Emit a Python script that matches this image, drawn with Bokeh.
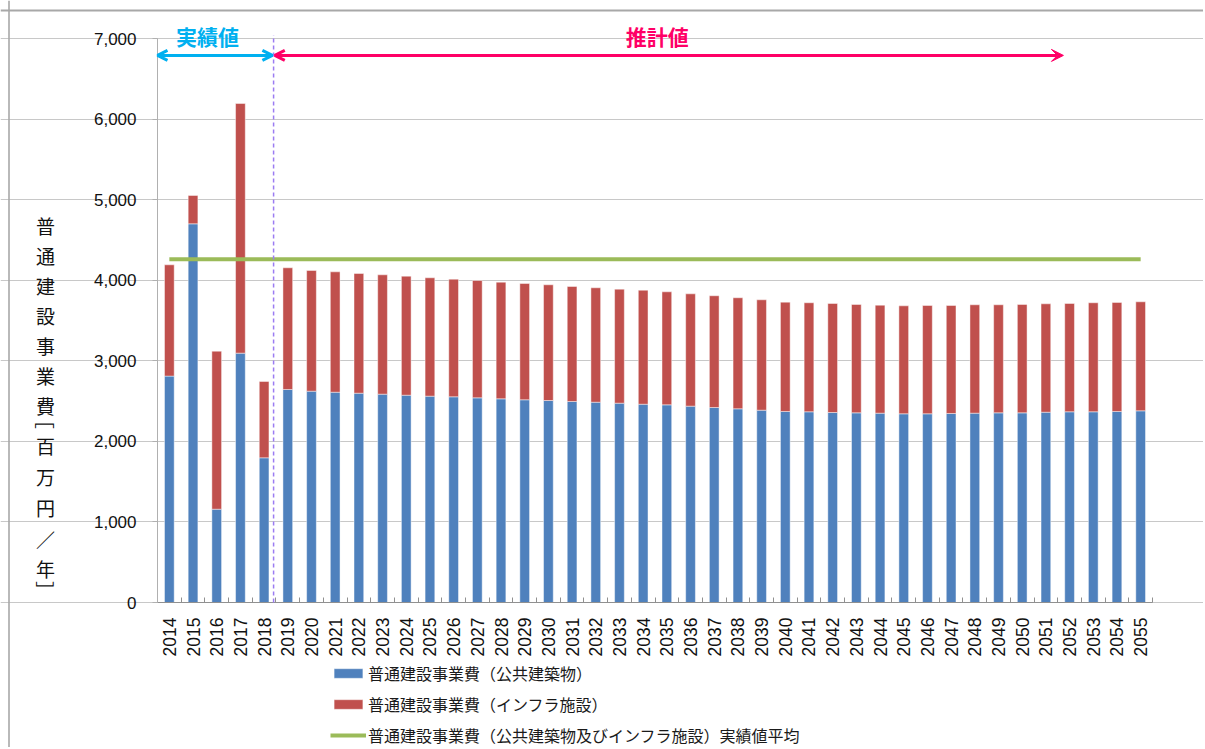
import numpy as np
from bokeh.plotting import figure
from bokeh.models import (Range1d, FixedTicker, NumeralTickFormatter, Legend, LegendItem,
                          Arrow, OpenHead, VeeHead, Label, Span, ColumnDataSource)
from bokeh.embed import file_html
from bokeh.resources import INLINE

# ---------------- data ----------------
years = [str(y) for y in range(2014, 2056)]
public_buildings = [2810, 4700, 1158, 3095, 1796, 2644, 2623, 2610, 2598, 2586,
                    2573, 2561, 2553, 2540, 2528, 2516, 2507, 2495, 2486, 2474,
                    2461, 2453, 2437, 2420, 2404, 2387, 2371, 2367, 2358, 2354,
                    2350, 2342, 2342, 2346, 2350, 2354, 2354, 2362, 2367, 2367,
                    2371, 2379]
infrastructure = [1381, 352, 1961, 3098, 947, 1510, 1498, 1494, 1485, 1481,
                  1477, 1469, 1460, 1457, 1448, 1443, 1436, 1427, 1420, 1415,
                  1415, 1403, 1394, 1387, 1378, 1370, 1357, 1353, 1353, 1345,
                  1340, 1340, 1344, 1340, 1345, 1341, 1345, 1345, 1344, 1353,
                  1353, 1353]
actual_years = ["2014", "2015", "2016", "2017", "2018"]
y_ticks = [0, 1000, 2000, 3000, 4000, 5000, 6000, 7000]

series_labels = ["普通建設事業費（公共建築物）",
                 "普通建設事業費（インフラ施設）",
                 "普通建設事業費（公共建築物及びインフラ施設）実績値平均"]
y_label_chars = ["普", "通", "建", "設", "事", "業", "費", "［", "百", "万", "円", "／", "年", "］"]

# ---------------- derived ----------------
n = len(years)
xs = list(range(1, n + 1))
totals = [a + b for a, b in zip(public_buildings, infrastructure)]
actual_totals = [t for y, t in zip(years, totals) if y in actual_years]
actual_average = sum(actual_totals) / len(actual_totals)
n_actual = len(actual_years)
y_max = y_ticks[-1]

src = ColumnDataSource(dict(x=xs, pub=public_buildings, tot=totals))

FONT = "Liberation Sans"
JFONT = "Noto Sans CJK JP"

# ---------------- layout (canvas W x H; plot box in canvas pixels) ----------------
W, H = 1203, 747
BOX_L, BOX_R, BOX_T, BOX_B = 157, 1152, 38, 602
SX = (BOX_R - BOX_L) / n              # px per category
SY = (BOX_B - BOX_T) / y_max          # px per unit
x_start = 0.5 - BOX_L / SX
x_end = n + 0.5 + (W - BOX_R) / SX
y_start = -(H - BOX_B) / SY
y_end = y_max + BOX_T / SY

p = figure(width=W, height=H, title=None,
           x_range=Range1d(x_start, x_end), y_range=Range1d(y_start, y_end),
           output_backend="svg", toolbar_location=None,
           min_border_left=0, min_border_right=0, min_border_top=0, min_border_bottom=0)
p.outline_line_color = None
p.background_fill_color = "white"

r_pub = p.vbar(x="x", top="pub", width=0.41, source=src,
               fill_color="#4f81bd", line_color="white", line_alpha=0.45, line_width=1)
r_inf = p.vbar(x="x", bottom="pub", top="tot", width=0.41, source=src,
               fill_color="#c0504d", line_color="white", line_alpha=0.45, line_width=1)
r_avg = p.line(x=[xs[0], xs[-1]], y=[actual_average, actual_average],
               line_color="#9bbb59", line_width=4)

# chart-area border (left and top edges)
p.add_layout(Span(location=x_start + 8.5 / SX, dimension="height", line_color="#a8a8a8", line_width=1.6))
p.add_layout(Span(location=y_end - 10 / SY, dimension="width", line_color="#a8a8a8", line_width=1.8))

# axes fixed inside the canvas
p.xaxis.fixed_location = 0
p.xaxis.bounds = (0.5, n + 0.5)
p.xaxis.ticker = FixedTicker(ticks=xs, minor_ticks=[i + 0.5 for i in range(0, n + 1)])
p.xaxis.major_label_overrides = {x: y for x, y in zip(xs, years)}
p.xaxis.major_label_orientation = np.pi / 2
p.xaxis.major_tick_in = 0
p.xaxis.major_tick_out = 0
p.xaxis.minor_tick_in = 5
p.xaxis.minor_tick_out = 0
p.xaxis.minor_tick_line_color = "#909090"
p.xaxis.axis_line_color = "#909090"
p.xaxis.major_label_standoff = 15
p.xaxis.major_label_text_font = FONT
p.xaxis.major_label_text_font_size = "17.5px"
p.xaxis.major_label_text_color = "#111111"

p.yaxis.fixed_location = 0.5
p.yaxis.bounds = (0, y_max)
p.yaxis.ticker = FixedTicker(ticks=y_ticks, minor_ticks=[])
p.yaxis.formatter = NumeralTickFormatter(format="0,0")
p.yaxis.major_tick_in = 0
p.yaxis.major_tick_out = 5
p.yaxis.major_tick_line_color = "#b0b0b0"
p.yaxis.axis_line_color = "#b0b0b0"
p.yaxis.major_label_standoff = 16
p.yaxis.major_label_text_font = FONT
p.yaxis.major_label_text_font_size = "17px"
p.yaxis.major_label_text_color = "#111111"

p.xgrid.grid_line_color = None
p.ygrid.grid_line_color = "#c8c8c8"
p.ygrid.grid_line_width = 1
p.ygrid.bounds = (0.5, n + 0.5)

# divider between actual and estimated values
boundary = n_actual + 0.4
p.add_layout(Arrow(x_start=boundary, y_start=0, x_end=boundary, y_end=7040, end=None,
                   line_color="#9b7cf2", line_dash="4 3", line_width=1.5))

arrow_y = 6790
p.add_layout(Arrow(x_start=0.5, y_start=arrow_y, x_end=boundary - 0.05, y_end=arrow_y,
                   line_color="#00b0f0", line_width=3,
                   start=OpenHead(size=10, line_color="#00b0f0", line_width=3),
                   end=OpenHead(size=10, line_color="#00b0f0", line_width=3)))
p.add_layout(Arrow(x_start=boundary + 0.05, y_start=arrow_y, x_end=38.74, y_end=arrow_y,
                   line_color="#ff0066", line_width=3,
                   start=OpenHead(size=10, line_color="#ff0066", line_width=3),
                   end=VeeHead(size=12, fill_color="#ff0066", line_color="#ff0066")))
p.add_layout(Label(x=2.61, y=7037, text="実績値", text_align="center", text_baseline="middle",
                   text_font=JFONT, text_font_style="bold", text_font_size="21px",
                   text_color="#00b0f0"))
p.add_layout(Label(x=21.6, y=7037, text="推計値", text_align="center", text_baseline="middle",
                   text_font=JFONT, text_font_style="bold", text_font_size="21px",
                   text_color="#ff0066"))

# stacked vertical axis title (screen units measured from the canvas bottom-left)
char_y = [225, 255, 285, 315, 345, 375, 405, 419, 445, 476, 507, 539, 568, 590]
char_angle = [0, 0, 0, 0, 0, 0, 0, -np.pi / 2, 0, 0, 0, 0, 0, -np.pi / 2]
for ch, yy, ang in zip(y_label_chars, char_y, char_angle):
    p.add_layout(Label(x=45, y=H - yy, x_units="screen", y_units="screen", angle=ang,
                       text=ch, text_align="center", text_baseline="middle",
                       text_font=JFONT, text_font_size="19px", text_color="#111111"))

legend = Legend(items=[LegendItem(label=series_labels[0], renderers=[r_pub]),
                       LegendItem(label=series_labels[1], renderers=[r_inf]),
                       LegendItem(label=series_labels[2], renderers=[r_avg])],
                location=(330, 0), orientation="vertical",
                padding=0, margin=0, spacing=7,
                glyph_width=36, glyph_height=12, label_height=23, label_standoff=2,
                label_text_font=JFONT, label_text_font_size="16px", label_text_color="#1a1a1a",
                border_line_color=None, background_fill_alpha=0)
p.add_layout(legend)

open("out.html", "w").write(file_html(p, INLINE))
